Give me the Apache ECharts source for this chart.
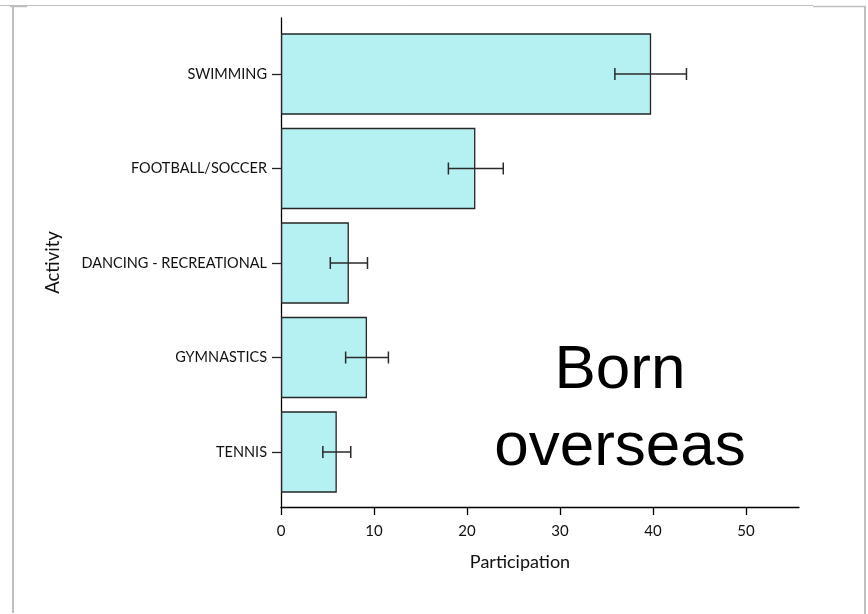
<!DOCTYPE html>
<html><head><meta charset="utf-8">
<script src="https://cdn.jsdelivr.net/npm/echarts@6/dist/echarts.min.js"></script>
<style>html,body{margin:0;padding:0;background:#fff}#c{width:868px;height:614px}</style>
</head><body><div id="c"></div>
<script>
var categories = ['SWIMMING', 'FOOTBALL/SOCCER', 'DANCING - RECREATIONAL', 'GYMNASTICS', 'TENNIS'];
var participation = [39.8, 20.9, 7.3, 9.25, 6.0];
var errLow = [35.9, 18.0, 5.3, 6.95, 4.5];
var errHigh = [43.6, 23.9, 9.3, 11.55, 7.5];
var xTicks = [0, 10, 20, 30, 40, 50];
var xMax = 55.7;

var errData = categories.map(function (c, i) { return [i, errLow[i], errHigh[i]]; });
var FONT = 'Lato';

var chart = echarts.init(document.getElementById('c'), null, {renderer: 'canvas'});
chart.setOption({
  animation: false,
  backgroundColor: '#fff',
  grid: [
    {left: 281, top: 18, width: 518, height: 489, containLabel: false},
    {left: 281, top: 26.75, width: 518, height: 472.5, containLabel: false}
  ],
  xAxis: [
    {type: 'value', gridIndex: 0, min: 0, max: xMax,
     axisLine: {show: true, lineStyle: {color: '#000', width: 1.3}},
     axisTick: {show: true, length: 8, customValues: xTicks, lineStyle: {color: '#000', width: 1.3}},
     axisLabel: {show: true, customValues: xTicks, color: '#111', fontFamily: FONT, fontSize: 15, margin: 17},
     splitLine: {show: false},
     name: 'Participation', nameLocation: 'middle', nameGap: 46,
     nameTextStyle: {color: '#111', fontFamily: FONT, fontSize: 18, padding: [0, 40, 0, 0]}},
    {type: 'value', gridIndex: 1, min: 0, max: xMax, show: false}
  ],
  yAxis: [
    {type: 'value', gridIndex: 0, min: 0, max: 1,
     axisLine: {show: true, lineStyle: {color: '#000', width: 1.3}},
     axisTick: {show: false}, axisLabel: {show: false}, splitLine: {show: false},
     name: 'Activity', nameLocation: 'middle', nameRotate: 90, nameGap: 218,
     nameTextStyle: {color: '#111', fontFamily: FONT, fontSize: 18.5}},
    {type: 'category', gridIndex: 1, data: categories, inverse: true,
     axisLine: {show: false},
     axisTick: {show: true, alignWithLabel: true, length: 9, lineStyle: {color: '#222', width: 1.3}},
     axisLabel: {color: '#111', fontFamily: FONT, fontSize: 14.5, margin: 14},
     splitLine: {show: false}}
  ],
  series: [
    {type: 'bar', xAxisIndex: 1, yAxisIndex: 1, data: participation, z: 2,
     barCategoryGap: '14%',
     itemStyle: {color: '#b5f0f3', borderColor: '#262626', borderWidth: 1.3}},
    {type: 'custom', xAxisIndex: 1, yAxisIndex: 1, data: errData, z: 5,
     encode: {y: 0, x: [1, 2]},
     renderItem: function (params, api) {
       var ci = api.value(0);
       var p1 = api.coord([api.value(1), ci]);
       var p2 = api.coord([api.value(2), ci]);
       var h = 6;
       var st = {stroke: '#2a2a2a', lineWidth: 1.5};
       return {type: 'group', children: [
         {type: 'line', shape: {x1: p1[0], y1: p1[1], x2: p2[0], y2: p2[1]}, style: st},
         {type: 'line', shape: {x1: p1[0], y1: p1[1] - h, x2: p1[0], y2: p1[1] + h}, style: st},
         {type: 'line', shape: {x1: p2[0], y1: p2[1] - h, x2: p2[0], y2: p2[1] + h}, style: st}
       ]};
     }}
  ],
  graphic: [
    {type: 'line', shape: {x1: 0, y1: 5.5, x2: 813, y2: 5.5}, style: {stroke: '#bfbfbf', lineWidth: 1}},
    {type: 'line', shape: {x1: 813, y1: 6.5, x2: 866, y2: 6.5}, style: {stroke: '#bfbfbf', lineWidth: 1.5}},
    {type: 'line', shape: {x1: 865, y1: 6, x2: 865, y2: 614}, style: {stroke: '#bfbfbf', lineWidth: 2}},
    {type: 'line', shape: {x1: 13, y1: 6, x2: 13, y2: 613}, style: {stroke: '#bfbfbf', lineWidth: 2}},
    {type: 'line', shape: {x1: 10, y1: 6.5, x2: 27, y2: 6.5}, style: {stroke: '#bfbfbf', lineWidth: 1.5}},
    {type: 'text', x: 620, y: 409,
     style: {text: 'Born\noverseas', fill: '#000', font: '62px "Liberation Sans", Arial, sans-serif',
             textAlign: 'center', textVerticalAlign: 'middle', lineHeight: 77}}
  ]
});
</script></body></html>
